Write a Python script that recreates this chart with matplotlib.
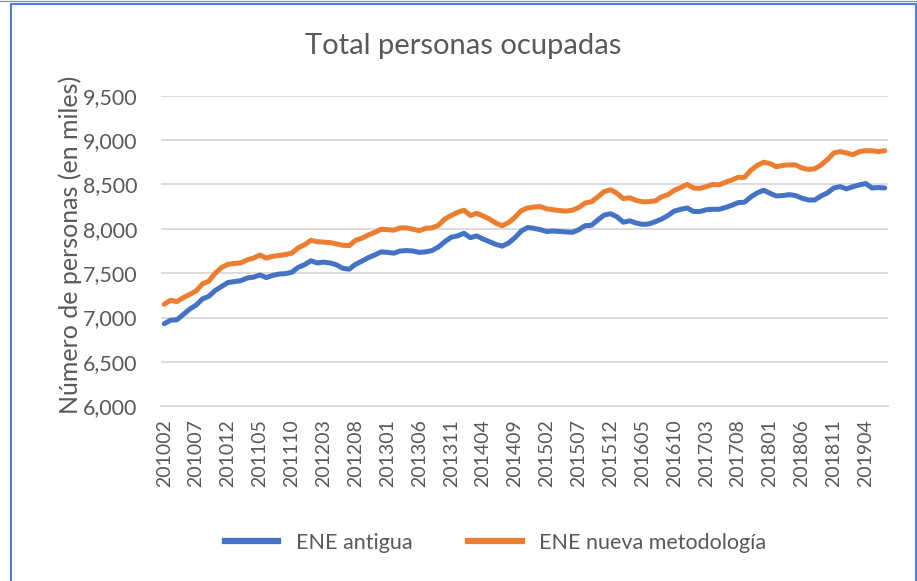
import matplotlib
matplotlib.use("Agg")
import matplotlib.pyplot as plt
import pandas as pd
from matplotlib.patches import Rectangle
from matplotlib.lines import Line2D

periods = [p.strftime("%Y%m") for p in pd.period_range("2010-02", "2019-07", freq="M")]

ene_antigua = [
    6930, 6970, 6975, 7035, 7095, 7140, 7210, 7240, 7305, 7350,
    7395, 7405, 7415, 7445, 7455, 7480, 7450, 7475, 7490, 7495,
    7510, 7565, 7595, 7640, 7615, 7625, 7615, 7595, 7555, 7545,
    7600, 7635, 7675, 7705, 7740, 7735, 7725, 7750, 7755, 7750,
    7735, 7740, 7755, 7795, 7855, 7905, 7920, 7950, 7900, 7920,
    7885, 7855, 7825, 7805, 7840, 7900, 7975, 8015, 8005, 7990,
    7970, 7975, 7970, 7965, 7960, 7990, 8035, 8040, 8100, 8155,
    8170, 8135, 8075, 8090, 8065, 8050, 8055, 8080, 8110, 8150,
    8200, 8220, 8235, 8195, 8195, 8215, 8220, 8220, 8240, 8265,
    8295, 8300, 8360, 8405, 8435, 8400, 8370, 8375, 8385, 8375,
    8345, 8325, 8325, 8370, 8405, 8460, 8475, 8450, 8475, 8495,
    8510, 8460, 8465, 8460,
]

ene_nueva = [
    7150, 7195, 7180, 7225, 7260, 7300, 7380, 7410, 7500, 7565,
    7600, 7610, 7615, 7650, 7670, 7705, 7670, 7690, 7700, 7710,
    7725, 7785, 7820, 7870, 7855, 7850, 7845, 7830, 7815, 7810,
    7870, 7895, 7930, 7960, 7995, 7990, 7985, 8010, 8010, 7995,
    7980, 8005, 8010, 8040, 8110, 8150, 8185, 8210, 8150, 8175,
    8145, 8110, 8065, 8035, 8070, 8130, 8205, 8235, 8245, 8250,
    8225, 8215, 8205, 8200, 8210, 8240, 8290, 8305, 8360, 8420,
    8440, 8400, 8340, 8350, 8320, 8305, 8305, 8315, 8360, 8385,
    8435, 8465, 8500, 8460, 8455, 8475, 8500, 8495, 8525, 8550,
    8580, 8580, 8660, 8715, 8750, 8735, 8700, 8715, 8720, 8720,
    8685, 8670, 8675, 8720, 8780, 8855, 8870, 8855, 8835, 8870,
    8880, 8880, 8870, 8880,
]

series_names = ["ENE antigua", "ENE nueva metodología"]
title = "Total personas ocupadas"
ylabel = "Número de personas (en miles)"
yticks = [6000, 6500, 7000, 7500, 8000, 8500, 9000, 9500]

plt.rcParams["font.family"] = ["Lato", "DejaVu Sans"]
TXT = "#595959"
BLUE = "#4472C4"
ORANGE = "#ED7D31"

W, H = 917, 581
fig = plt.figure(figsize=(W / 100, H / 100), dpi=100)
ax = fig.add_axes([161 / W, 1 - 406.3 / H, (888 - 161) / W, (406.3 - 95.7) / H])

x = list(range(len(periods)))
ax.plot(x, ene_antigua, color=BLUE, lw=3.6, solid_capstyle="round", solid_joinstyle="round", zorder=3)
ax.plot(x, ene_nueva, color=ORANGE, lw=3.6, solid_capstyle="round", solid_joinstyle="round", zorder=3)

ax.set_xlim(-0.5, len(periods) - 0.5)
ax.set_ylim(6000, 9500)
ax.set_yticks(yticks)
ax.set_yticklabels([f"{v:,}" for v in yticks])
ax.set_xticks(x[::5])
ax.set_xticklabels(periods[::5], rotation=90)
ax.grid(axis="y", color="#D9D9D9", lw=1.3)
ax.set_axisbelow(True)
for s in ["top", "right", "left"]:
    ax.spines[s].set_visible(False)
ax.spines["bottom"].set_color("#D9D9D9")
ax.spines["bottom"].set_linewidth(1.3)
ax.tick_params(axis="both", length=0, colors=TXT)
ax.tick_params(axis="y", labelsize=15.5, pad=17)
ax.tick_params(axis="x", labelsize=14, pad=9)

fig.text(463 / W, 1 - 46 / H, title, ha="center", va="center", fontsize=21, color=TXT)
fig.text(70 / W, 1 - 245 / H, ylabel, ha="center", va="center", rotation=90, fontsize=18, color=TXT)

handles = [Line2D([], [], color=BLUE, lw=4.5), Line2D([], [], color=ORANGE, lw=4.5)]
fig.legend(handles, series_names, loc="center", bbox_to_anchor=(495.5 / W, 1 - 543 / H), ncol=2,
           frameon=False, fontsize=15.5, labelcolor=TXT, handlelength=2.5,
           handletextpad=0.8, columnspacing=2.6)

fig.add_artist(Line2D([0, 1], [1 - 0.5 / H, 1 - 0.5 / H], transform=fig.transFigure, color="#7A8FB8", lw=0.9))
fig.add_artist(Rectangle((10.5 / W, -0.05), (916 - 10.5) / W, 1.05 - 4 / H, transform=fig.transFigure,
                         fill=False, edgecolor="#4F7FD6", lw=1.5))

fig.savefig("out.png", dpi=100)
